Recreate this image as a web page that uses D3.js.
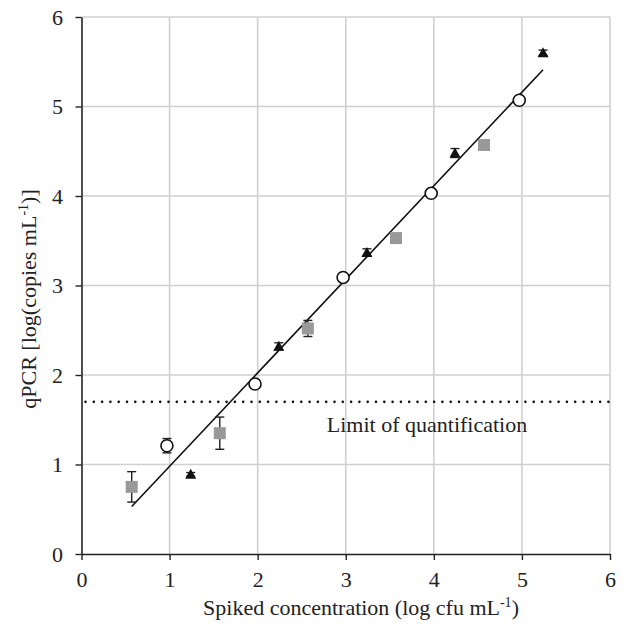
<!DOCTYPE html>
<html>
<head>
<meta charset="utf-8">
<script src="https://cdn.jsdelivr.net/npm/d3@7"></script>
<style>
  body { margin: 0; background: #fff; }
  svg { display: block; font-family: "Liberation Serif", "Times New Roman", serif; }
</style>
</head>
<body>
<svg id="chart" width="628" height="627"></svg>
<script>
// tick labels
const xTicks = [0, 1, 2, 3, 4, 5, 6]
const yTicks = [0, 1, 2, 3, 4, 5, 6]

// open circles
const circleX = [0.97, 1.97, 2.97, 3.97, 4.97]
const circleY = [1.21, 1.90, 3.09, 4.03, 5.07]
const circleErr = [0.08, 0.02, 0.02, 0.02, 0.02]

// black triangles
const triX = [1.24, 2.24, 3.24, 4.24, 5.24]
const triY = [0.89, 2.32, 3.37, 4.48, 5.60]
const triErr = [0.02, 0.04, 0.04, 0.05, 0.03]

// grey squares
const sqX = [0.57, 1.57, 2.57, 3.57, 4.57]
const sqY = [0.75, 1.35, 2.52, 3.53, 4.57]
const sqErr = [0.17, 0.18, 0.09, 0.02, 0.02]

// regression line end points
const fitX = [0.57, 5.24]
const fitY = [0.53, 5.41]

const loq = 1.70

const svg = d3.select('#chart')

const x = d3.scaleLinear().domain([0, 6]).range([81.5, 610])
const y = d3.scaleLinear().domain([0, 6]).range([554, 17])

// grid
svg.append('g')
    .selectAll('line')
    .data(xTicks.slice(1))
    .join('line')
    .attr('x1', d => x(d)).attr('x2', d => x(d))
    .attr('y1', y(0)).attr('y2', y(6))
    .attr('stroke', '#d0d0d0')
    .attr('stroke-width', 1.6)

svg.append('g')
    .selectAll('line')
    .data(yTicks.slice(1))
    .join('line')
    .attr('x1', x(0)).attr('x2', x(6))
    .attr('y1', d => y(d)).attr('y2', d => y(d))
    .attr('stroke', '#d0d0d0')
    .attr('stroke-width', 1.6)

// axes
const xAxis = svg.append('g')
    .attr('transform', 'translate(0,' + y(0) + ')')
    .call(d3.axisBottom(x).tickValues(xTicks).tickFormat(d3.format('d'))
        .tickSize(6).tickSizeOuter(0).tickPadding(11))
const yAxis = svg.append('g')
    .attr('transform', 'translate(' + x(0) + ',0)')
    .call(d3.axisLeft(y).tickValues(yTicks).tickFormat(d3.format('d'))
        .tickSize(6).tickSizeOuter(0).tickPadding(12.5))

for (const ax of [xAxis, yAxis]) {
    ax.attr('font-family', '"Liberation Serif", serif').attr('font-size', 22)
    ax.select('.domain').attr('stroke', '#222').attr('stroke-width', 1.6)
    ax.selectAll('.tick line').attr('stroke', '#222').attr('stroke-width', 1.4)
    ax.selectAll('.tick text').attr('fill', '#222')
}

// limit of quantification
svg.append('line')
    .attr('x1', x(0) + 4).attr('x2', x(6))
    .attr('y1', y(loq)).attr('y2', y(loq))
    .attr('stroke', '#111')
    .attr('stroke-width', 2.6)
    .attr('stroke-linecap', 'round')
    .attr('stroke-dasharray', '0,8.3')

svg.append('text')
    .attr('x', 427)
    .attr('y', 432)
    .attr('text-anchor', 'middle')
    .attr('fill', '#222')
    .style('font-size', '22px')
    .text('Limit of quantification')

// regression line
svg.append('line')
    .attr('x1', x(fitX[0])).attr('y1', y(fitY[0]))
    .attr('x2', x(fitX[1])).attr('y2', y(fitY[1]))
    .attr('stroke', '#111')
    .attr('stroke-width', 1.6)

// error bars
function errorBars(xs, ys, es) {
    const g = svg.append('g').attr('stroke', '#222').attr('stroke-width', 1.4)
    const rows = xs.map((d, i) => ({x: d, y: ys[i], e: es[i]}))
    g.selectAll('.v').data(rows).join('line')
        .attr('x1', d => x(d.x)).attr('x2', d => x(d.x))
        .attr('y1', d => y(d.y - d.e)).attr('y2', d => y(d.y + d.e))
    g.selectAll('.t').data(rows).join('line')
        .attr('x1', d => x(d.x) - 4.5).attr('x2', d => x(d.x) + 4.5)
        .attr('y1', d => y(d.y + d.e)).attr('y2', d => y(d.y + d.e))
    g.selectAll('.b').data(rows).join('line')
        .attr('x1', d => x(d.x) - 4.5).attr('x2', d => x(d.x) + 4.5)
        .attr('y1', d => y(d.y - d.e)).attr('y2', d => y(d.y - d.e))
}
errorBars(sqX, sqY, sqErr)
errorBars(circleX, circleY, circleErr)
errorBars(triX, triY, triErr)

// squares
svg.append('g')
    .selectAll('rect')
    .data(sqX.map((d, i) => [d, sqY[i]]))
    .join('rect')
    .attr('x', d => x(d[0]) - 6)
    .attr('y', d => y(d[1]) - 6)
    .attr('width', 12)
    .attr('height', 12)
    .attr('fill', '#999')

// circles
svg.append('g')
    .selectAll('circle')
    .data(circleX.map((d, i) => [d, circleY[i]]))
    .join('circle')
    .attr('cx', d => x(d[0]))
    .attr('cy', d => y(d[1]))
    .attr('r', 6)
    .attr('fill', '#fff')
    .attr('stroke', '#111')
    .attr('stroke-width', 1.6)

// triangles
svg.append('g')
    .selectAll('path')
    .data(triX.map((d, i) => [d, triY[i]]))
    .join('path')
    .attr('transform', d => 'translate(' + x(d[0]) + ',' + y(d[1]) + ')')
    .attr('d', 'M0,-5.5L5.5,4.5L-5.5,4.5Z')
    .attr('fill', '#111')

// axis titles
const xt = svg.append('text')
    .attr('x', 361)
    .attr('y', 615)
    .attr('text-anchor', 'middle')
    .attr('fill', '#222')
    .style('font-size', '22px')
xt.append('tspan').text('Spiked concentration (log cfu mL')
xt.append('tspan').attr('dy', -8).style('font-size', '14px').text('-1')
xt.append('tspan').attr('dy', 8).text(')')

const yt = svg.append('text')
    .attr('transform', 'translate(36,299) rotate(-90)')
    .attr('text-anchor', 'middle')
    .attr('fill', '#222')
    .style('font-size', '22px')
yt.append('tspan').text('qPCR [log(copies mL')
yt.append('tspan').attr('dy', -8).style('font-size', '14px').text('-1')
yt.append('tspan').attr('dy', 8).text(')]')
</script>
</body>
</html>
